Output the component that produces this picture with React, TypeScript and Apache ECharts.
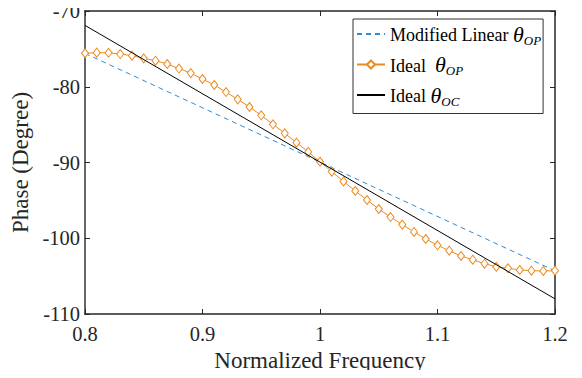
import React, { useEffect, useRef } from "react";
import * as echarts from "echarts";

const freq: number[] = [
  0.8, 0.81, 0.82, 0.83, 0.84, 0.85, 0.86, 0.87, 0.88, 0.89, 0.9, 0.91, 0.92, 0.93,
  0.94, 0.95, 0.96, 0.97, 0.98, 0.99, 1.0, 1.01, 1.02, 1.03, 1.04, 1.05, 1.06, 1.07,
  1.08, 1.09, 1.1, 1.11, 1.12, 1.13, 1.14, 1.15, 1.16, 1.17, 1.18, 1.19, 1.2,
];
const idealOP: number[] = [
  -75.58, -75.5, -75.52, -75.68, -75.9, -76.25, -76.56, -77.0, -77.6, -78.2, -78.98,
  -79.77, -80.7, -81.66, -82.67, -83.77, -84.96, -86.15, -87.38, -88.6, -89.9,
  -91.2, -92.5, -93.76, -94.95, -96.14, -97.2, -98.2, -99.17, -100.1, -100.93,
  -101.64, -102.34, -102.83, -103.36, -103.76, -103.97, -104.19, -104.28, -104.32,
  -104.28,
];
const linearFreq: number[] = [0.8, 1.2];
const modifiedLinear: number[] = [-75.6, -104.3];
const idealOC: number[] = [-71.9, -108.0];
const xTicks: number[] = [0.8, 0.9, 1.0, 1.1, 1.2];
const yTicks: number[] = [-110, -100, -90, -80, -70];

const FONT = "Liberation Serif";
const BLUE = "#2F8BD5";
const ORANGE = "#EB8A1E";

export default function App() {
  const ref = useRef<HTMLDivElement>(null);
  useEffect(() => {
    if (!ref.current) return;
    const chart = echarts.init(ref.current, undefined, { renderer: "svg" });
    const axisLine = { show: true, lineStyle: { color: "#262626", width: 1.5 } };
    const tick = { show: true, inside: true, length: 5, lineStyle: { color: "#262626", width: 1 } };
    const labelMap: Record<string, string> = {
      "Modified Linear": "{t|Modified Linear }{th|θ}{sub|OP}",
      "Ideal OP": "{t|Ideal  }{th|θ}{sub|OP}",
      "Ideal OC": "{t|Ideal }{th|θ}{sub|OC}",
    };
    chart.setOption({
      animation: false,
      backgroundColor: "#ffffff",
      grid: { left: 85, right: 27, top: 11, bottom: 64 },
      legend: {
        orient: "vertical",
        left: 353,
        top: 19,
        itemWidth: 28,
        itemHeight: 10,
        itemGap: 7,
        padding: [4, 2, 6, 3],
        borderColor: "#333",
        borderWidth: 1,
        backgroundColor: "#fff",
        data: [
          { name: "Modified Linear", itemStyle: { opacity: 0 } },
          { name: "Ideal OP" },
          { name: "Ideal OC", itemStyle: { opacity: 0 } },
        ],
        formatter: (name: string) => labelMap[name],
        textStyle: {
          fontFamily: FONT,
          color: "#000",
          rich: {
            t: { fontFamily: FONT, fontSize: 18, color: "#000", padding: [2, 0, 0, 0] },
            th: { fontFamily: FONT, fontSize: 22, fontStyle: "italic", color: "#000" },
            sub: { fontFamily: FONT, fontSize: 13, fontStyle: "italic", color: "#000", padding: [12, 0, 0, 0] },
          },
        },
      },
      xAxis: [
        {
          type: "value",
          min: 0.8,
          max: 1.2,
          interval: 0.1,
          name: "Normalized Frequency",
          nameLocation: "middle",
          nameGap: 30,
          nameTextStyle: { fontFamily: FONT, fontSize: 23, color: "#262626" },
          axisLine,
          axisTick: tick,
          splitLine: { show: false },
          axisLabel: {
            fontFamily: FONT,
            fontSize: 20.5,
            color: "#262626",
            margin: 9,
            formatter: (v: number) => {
              const m = xTicks.find((t) => Math.abs(t - v) < 1e-9);
              return m === undefined ? "" : String(Math.round(m * 10) / 10);
            },
          },
        },
        {
          type: "value",
          position: "top",
          min: 0.8,
          max: 1.2,
          interval: 0.1,
          axisLine,
          axisTick: tick,
          axisLabel: { show: false },
          splitLine: { show: false },
        },
      ],
      yAxis: [
        {
          type: "value",
          min: -110,
          max: -70,
          interval: 10,
          name: "Phase (Degree)",
          nameLocation: "middle",
          nameGap: 48,
          nameTextStyle: { fontFamily: FONT, fontSize: 23, color: "#262626" },
          axisLine: { show: true, lineStyle: { color: "#666", width: 2 } },
          axisTick: tick,
          splitLine: { show: false },
          axisLabel: {
            fontFamily: FONT,
            fontSize: 20.5,
            color: "#262626",
            margin: 5,
            formatter: (v: number) => (yTicks.includes(v) ? String(v) : ""),
          },
        },
        {
          type: "value",
          position: "right",
          min: -110,
          max: -70,
          interval: 10,
          axisLine,
          axisTick: tick,
          axisLabel: { show: false },
          splitLine: { show: false },
        },
      ],
      series: [
        {
          name: "Modified Linear",
          type: "line",
          data: linearFreq.map((x, i) => [x, modifiedLinear[i]]),
          showSymbol: false,
          symbol: "none",
          lineStyle: { color: BLUE, width: 1, type: [5, 4] },
          itemStyle: { color: BLUE },
          z: 2,
        },
        {
          name: "Ideal OP",
          type: "line",
          data: freq.map((x, i) => [x, idealOP[i]]),
          symbol: "diamond",
          symbolSize: [7, 9],
          lineStyle: { color: ORANGE, width: 1 },
          itemStyle: { color: "#fff", borderColor: ORANGE, borderWidth: 1 },
          z: 3,
        },
        {
          name: "Ideal OC",
          type: "line",
          data: linearFreq.map((x, i) => [x, idealOC[i]]),
          symbol: "none",
          lineStyle: { color: "#000", width: 1 },
          itemStyle: { color: "#000" },
          z: 4,
        },
      ],
    });
    return () => chart.dispose();
  }, []);
  return <div ref={ref} style={{ width: 582, height: 378, margin: -8 }} />;
}
